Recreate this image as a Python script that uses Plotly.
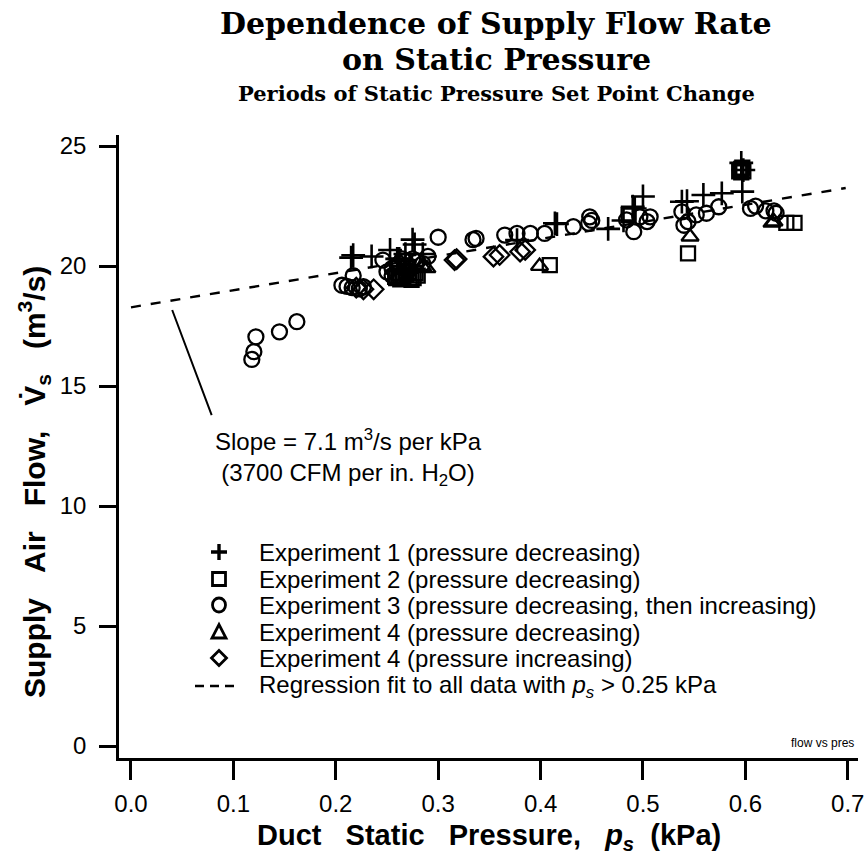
import plotly.graph_objects as go

# ---- data ----
exp1_p = [0.215, 0.217, 0.235, 0.253, 0.260, 0.268, 0.262, 0.275, 0.277, 0.285, 0.377, 0.414,
          0.416, 0.466, 0.481, 0.490, 0.492, 0.500, 0.538, 0.543, 0.559, 0.577, 0.596,
          0.598, 0.597]
exp1_v = [20.35, 20.45, 20.40, 20.67, 20.30, 20.50, 20.30, 21.10, 20.90, 20.50, 21.08, 21.78,
          21.75, 21.55, 21.90, 22.47, 22.40, 22.90, 22.68, 22.70, 22.96, 23.03, 24.30,
          24.00, 23.10]

exp2_p = [0.258, 0.259, 0.261, 0.262, 0.263, 0.265, 0.266, 0.268, 0.269, 0.270, 0.271,
          0.272, 0.274, 0.276, 0.278, 0.280, 0.409, 0.486, 0.544, 0.594, 0.595, 0.596,
          0.596, 0.597, 0.598, 0.640, 0.648]
exp2_v = [19.55, 19.50, 19.60, 19.70, 19.45, 19.60, 19.55, 19.80, 19.65, 19.90, 19.75,
          19.50, 19.42, 19.50, 19.70, 19.60, 20.04, 22.13, 20.53, 23.95, 24.00, 24.05,
          23.90, 24.10, 23.95, 21.80, 21.80]

exp3_p = [0.118, 0.120, 0.122, 0.145, 0.162, 0.206, 0.211, 0.216, 0.217, 0.223, 0.227,
          0.246, 0.250, 0.255, 0.255, 0.260, 0.262, 0.265, 0.268, 0.270, 0.275, 0.280,
          0.285, 0.290, 0.300, 0.334, 0.337, 0.365, 0.377, 0.390, 0.404, 0.432, 0.447,
          0.448, 0.450, 0.484, 0.491, 0.497, 0.504, 0.507, 0.538, 0.540, 0.544, 0.552,
          0.562, 0.574, 0.605, 0.610, 0.620, 0.628, 0.630]
exp3_v = [16.11, 16.43, 17.05, 17.26, 17.68, 19.20, 19.15, 19.10, 19.60, 19.05, 19.14,
          20.25, 19.76, 19.90, 19.60, 20.00, 20.10, 20.30, 20.20, 20.00, 20.30, 20.20,
          20.10, 20.40, 21.20, 21.10, 21.15, 21.29, 21.36, 21.36, 21.36, 21.64, 21.78,
          22.05, 21.90, 21.92, 21.43, 22.05, 21.85, 22.05, 22.26, 21.70, 21.85, 22.13,
          22.20, 22.47, 22.40, 22.50, 22.30, 22.30, 22.20]

exp4d_p = [0.285, 0.289, 0.399, 0.546, 0.626, 0.628]
exp4d_v = [19.95, 19.90, 20.00, 21.22, 21.80, 21.85]

exp4i_p = [0.220, 0.227, 0.237, 0.316, 0.318, 0.354, 0.360, 0.380, 0.385]
exp4i_v = [19.10, 19.03, 19.03, 20.25, 20.29, 20.39, 20.46, 20.60, 20.67]

reg_p = [0.0, 0.698]
reg_v = [18.28, 23.25]

x_ticks = [0.0, 0.1, 0.2, 0.3, 0.4, 0.5, 0.6, 0.7]
x_tick_labels = ["0.0", "0.1", "0.2", "0.3", "0.4", "0.5", "0.6", "0.7"]
y_ticks = [0, 5, 10, 15, 20, 25]
y_tick_labels = ["0", "5", "10", "15", "20", "25"]

legend_labels = [
    "Experiment 1 (pressure decreasing)",
    "Experiment 2 (pressure decreasing)",
    "Experiment 3 (pressure decreasing, then increasing)",
    "Experiment 4 (pressure decreasing)",
    "Experiment 4 (pressure increasing)",
    "Regression fit to all data with <i>p<sub>s</sub></i> > 0.25 kPa",
]

# slope pointer (annotation leader) and label position
slope_tip = (0.0397, 18.23)
slope_tail = (0.0788, 13.79)
slope_label_pos = (0.212, 12.04)

SANS = "Liberation Sans, Arial, Helvetica, sans-serif"
SERIF = "DejaVu Serif, serif"
NB = "\u00a0"
LW = 2.3

# layout geometry (pixels)
W, H = 868, 856
PLOT_TOP, PLOT_BOTTOM = 135, 758
PLOT_LEFT, PLOT_RIGHT = 119, 858


def py_to_paper(py):
    return (PLOT_BOTTOM - py) / (PLOT_BOTTOM - PLOT_TOP)


def px_to_paper(px):
    return (px - PLOT_LEFT) / (PLOT_RIGHT - PLOT_LEFT)


fig = go.Figure()

marker_line = dict(color="black", width=LW)
fig.add_trace(go.Scatter(x=exp1_p, y=exp1_v, mode="markers", name=legend_labels[0],
                         marker=dict(symbol="cross-thin-open", size=17, color="black",
                                     line=dict(color="black", width=2.6))))
fig.add_trace(go.Scatter(x=exp2_p, y=exp2_v, mode="markers", name=legend_labels[1],
                         marker=dict(symbol="square-open", size=14, color="black", line=marker_line)))
fig.add_trace(go.Scatter(x=exp3_p, y=exp3_v, mode="markers", name=legend_labels[2],
                         marker=dict(symbol="circle-open", size=15, color="black", line=marker_line)))
fig.add_trace(go.Scatter(x=exp4d_p, y=exp4d_v, mode="markers", name=legend_labels[3],
                         marker=dict(symbol="triangle-up-open", size=15, color="black", line=marker_line)))
fig.add_trace(go.Scatter(x=exp4i_p, y=exp4i_v, mode="markers", name=legend_labels[4],
                         marker=dict(symbol="diamond-open", size=15, color="black", line=marker_line)))
fig.add_trace(go.Scatter(x=reg_p, y=reg_v, mode="lines", name=legend_labels[5],
                         line=dict(color="black", width=2.4, dash="10px,10px")))

axis_common = dict(showline=True, linecolor="black", linewidth=2.5, mirror=False,
                   ticks="outside", tickwidth=2.5, tickcolor="black",
                   showgrid=False, zeroline=False,
                   tickfont=dict(family=SANS, size=24, color="black"))

fig.update_xaxes(range=[-0.0117, 0.7100], tickvals=x_ticks, ticktext=x_tick_labels,
                 ticklen=19, ticklabelstandoff=3, **axis_common)
fig.update_yaxes(range=[-0.50, 25.46], tickvals=y_ticks, ticktext=y_tick_labels,
                 ticklen=17, ticklabelstandoff=8, **axis_common)

TITLE_X = px_to_paper(496)
annotations = [
    dict(text="Dependence of Supply Flow Rate", x=TITLE_X, y=py_to_paper(23),
         font=dict(family=SERIF, size=30, color="black", weight="bold")),
    dict(text="on Static Pressure", x=TITLE_X, y=py_to_paper(59),
         font=dict(family=SERIF, size=30, color="black", weight="bold")),
    dict(text="Periods of Static Pressure Set Point Change", x=TITLE_X, y=py_to_paper(93),
         font=dict(family=SERIF, size=21, color="black", weight="bold")),
    dict(text=f"Duct{NB*3}Static{NB*3}Pressure,{NB*3}<i>p<sub>s</sub></i>{NB*2}(kPa)",
         x=px_to_paper(489), y=py_to_paper(837),
         font=dict(family=SANS, size=29, color="black", weight="bold")),
    dict(text=f"Supply{NB*3}Air{NB*3}Flow,{NB*3}V\u0307<sub>s</sub>{NB*3}(m<sup>3</sup>/s)",
         x=px_to_paper(34), y=py_to_paper(482), textangle=-90,
         font=dict(family=SANS, size=30, color="black", weight="bold")),
    dict(text="flow vs pres", x=px_to_paper(856), y=py_to_paper(743), xanchor="right",
         font=dict(family=SANS, size=12, color="black")),
]
for a in annotations:
    a.setdefault("xanchor", "center")
    a.update(xref="paper", yref="paper", yanchor="middle", showarrow=False)

# slope label and leader
annotations.append(dict(text="Slope = 7.1 m<sup>3</sup>/s per kPa<br>(3700 CFM per in. H<sub>2</sub>O)",
                        x=slope_label_pos[0], y=slope_label_pos[1], xref="x", yref="y",
                        align="center", showarrow=False,
                        font=dict(family=SANS, size=24, color="black")))
annotations.append(dict(text="", x=slope_tail[0], y=slope_tail[1], ax=slope_tip[0], ay=slope_tip[1],
                        xref="x", yref="y", axref="x", ayref="y", showarrow=True, arrowhead=0,
                        arrowwidth=2, arrowcolor="black", standoff=0, startstandoff=0))

# legend: text rows + key symbols drawn as pixel-sized shapes
LEG_ROWS = [552, 579, 605, 632, 658, 686]
LEG_KEY_X, LEG_TEXT_X = 219, 257
for row, lab in zip(LEG_ROWS, legend_labels):
    annotations.append(dict(text=lab, x=px_to_paper(LEG_TEXT_X), y=py_to_paper(row),
                            xref="paper", yref="paper", xanchor="left", yanchor="middle",
                            showarrow=False, font=dict(family=SANS, size=24, color="black")))

key_line = dict(color="black", width=2.8)
key_paths = [
    ("path", "M -8,0 L 8,0 M 0,-8 L 0,8", dict(color="black", width=3.4)),
    ("rect", (-6.5, -6.5, 6.5, 6.5), key_line),
    ("circle", (-6.5, -7, 6.5, 7), key_line),
    ("path", "M -7,-6 L 7,-6 L 0,7.5 Z", key_line),
    ("path", "M -7.5,0 L 0,7.5 L 7.5,0 L 0,-7.5 Z", key_line),
    ("line", (-24, 0, 17, 0), dict(color="black", width=2.4, dash="9px,6px")),
]
shapes = []
for row, (kind, geom, ln) in zip(LEG_ROWS, key_paths):
    s = dict(type=kind, xref="paper", yref="paper", xsizemode="pixel", ysizemode="pixel",
             xanchor=px_to_paper(LEG_KEY_X), yanchor=py_to_paper(row), line=ln,
             fillcolor="rgba(0,0,0,0)")
    if kind == "path":
        s["path"] = geom
    else:
        s.update(x0=geom[0], y0=geom[1], x1=geom[2], y1=geom[3])
    shapes.append(s)

fig.update_layout(
    width=W, height=H,
    margin=dict(l=PLOT_LEFT, r=W - PLOT_RIGHT, t=PLOT_TOP, b=H - PLOT_BOTTOM, autoexpand=False),
    paper_bgcolor="white", plot_bgcolor="white",
    showlegend=False,
    annotations=annotations,
    shapes=shapes,
)

fig.write_html("out.html")
